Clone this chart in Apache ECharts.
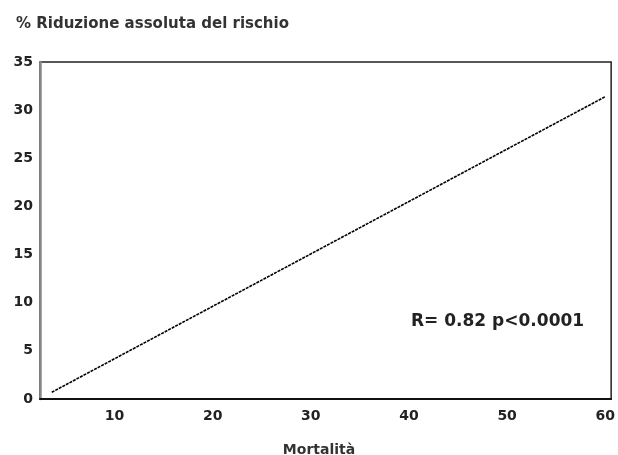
<!DOCTYPE html>
<html>
<head>
<meta charset="utf-8">
<script src="https://cdn.jsdelivr.net/npm/echarts@6/dist/echarts.min.js"></script>
<style>html,body{margin:0;padding:0;background:#fff}#c{width:618px;height:455px}</style>
</head>
<body>
<div id="c"></div>
<script>
var titleText = '% Riduzione assoluta del rischio';
var xName = 'Mortalità';
var statText = 'R= 0.82 p<0.0001';
var xTicks = [10, 20, 30, 40, 50, 60];
var yTicks = [0, 5, 10, 15, 20, 25, 30, 35];
var lineX = [3.6, 60];
var lineY = [0.7, 31.4];

var chart = echarts.init(document.getElementById('c'), null, {renderer: 'canvas'});
var font = '"DejaVu Sans", Verdana, sans-serif';
chart.setOption({
  backgroundColor: '#fff',
  animation: false,
  title: [
    {text: titleText, left: 11, top: 12, textStyle: {fontFamily: font, fontSize: 15, fontWeight: 'bold', color: '#333'}},
    {text: xName, left: 314, top: 438, textAlign: 'center', textStyle: {fontFamily: font, fontSize: 14, fontWeight: 'bold', color: '#333'}},
    {text: statText, left: 406, top: 308, textStyle: {fontFamily: font, fontSize: 17, fontWeight: 'bold', color: '#222'}}
  ],
  grid: {left: 40, right: 5, top: 62, bottom: 56, show: true, borderColor: '#222', borderWidth: 1.5, backgroundColor: 'transparent'},
  xAxis: {
    type: 'value', min: 2.4, max: 60.6,
    axisLine: {show: true, onZero: false, lineStyle: {color: '#111', width: 2}},
    axisTick: {show: false, customValues: xTicks},
    axisLabel: {customValues: xTicks, margin: 10, fontFamily: font, fontSize: 14, fontWeight: 'bold', color: '#222'},
    splitLine: {show: false}
  },
  yAxis: {
    type: 'value', min: 0, max: 35, interval: 5,
    axisLine: {show: true, onZero: false, lineStyle: {color: '#888', width: 2.5}},
    axisTick: {show: false},
    axisLabel: {margin: 7, fontFamily: font, fontSize: 14, fontWeight: 'bold', color: '#222'},
    splitLine: {show: false}
  },
  series: [{
    type: 'line',
    data: lineX.map(function (x, i) { return [x, lineY[i]]; }),
    symbol: 'none',
    lineStyle: {color: '#000', width: 1.6, type: [3, 1]}
  }]
});
</script>
</body>
</html>
